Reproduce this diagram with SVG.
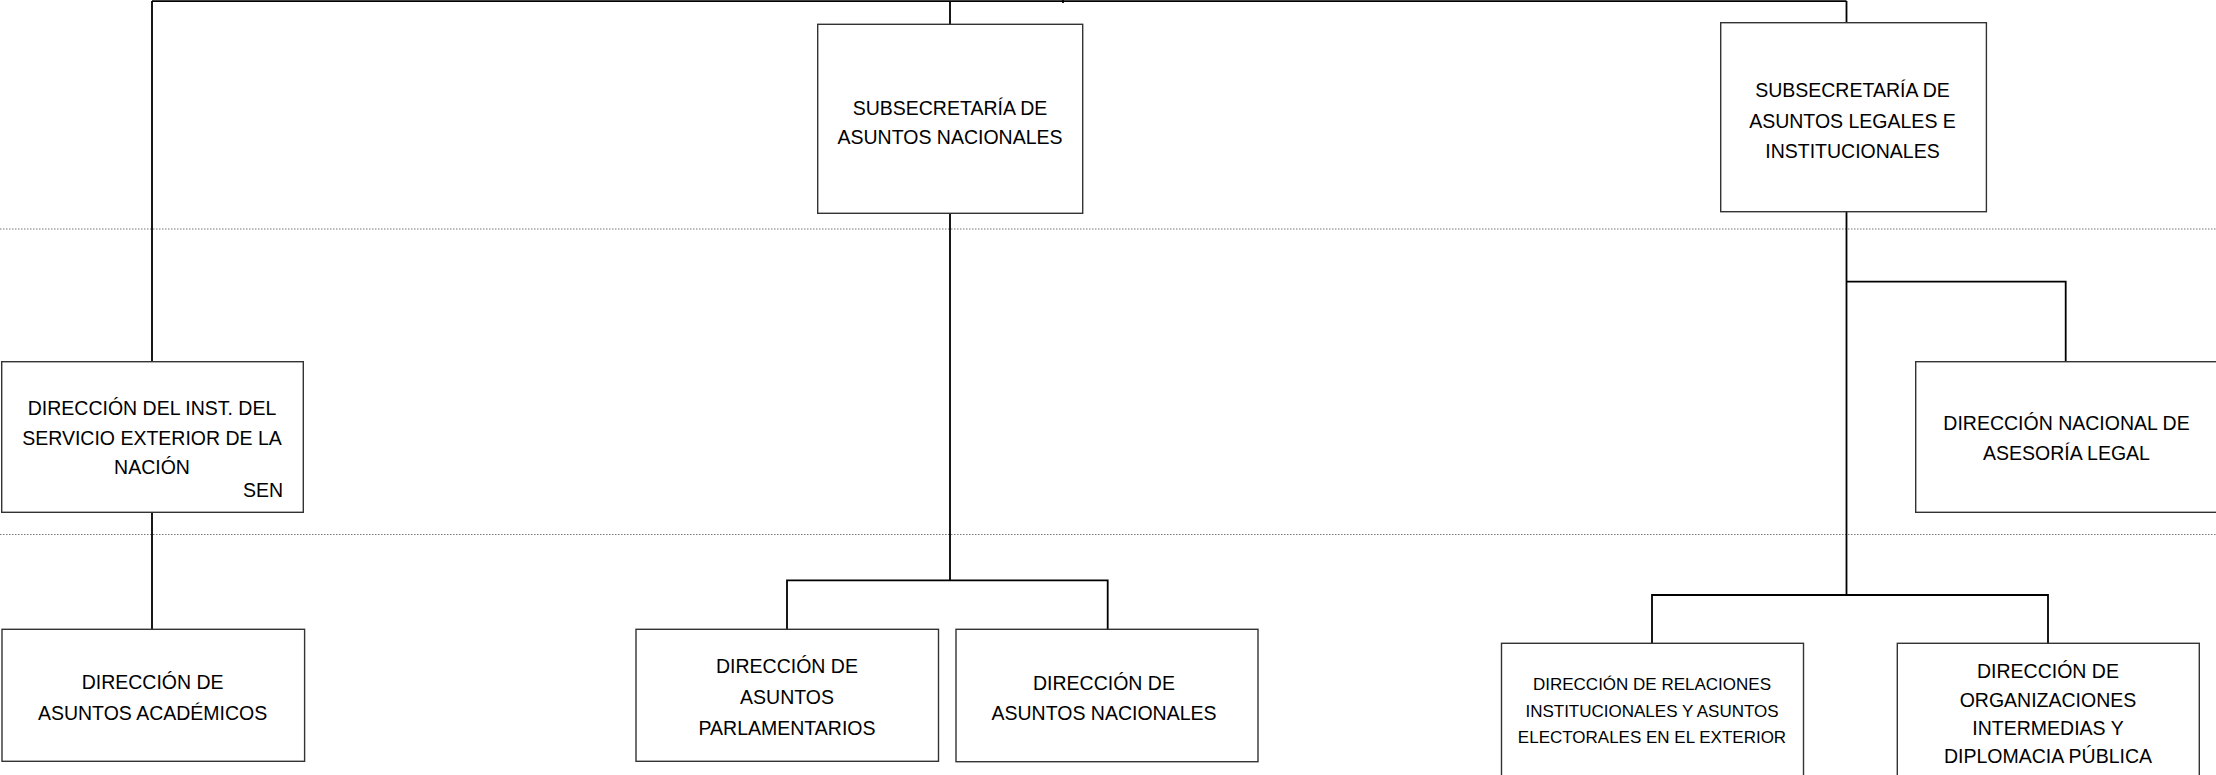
<svg xmlns="http://www.w3.org/2000/svg" width="2216" height="775" viewBox="0 0 2216 775">
<style>
.box{fill:#fff;stroke:#333;stroke-width:1.4}
.t{font-family:"Liberation Sans",Arial,sans-serif;font-size:19.5px;fill:#000;text-anchor:middle}
.s{font-size:17px}
.c{fill:none;stroke:#000;stroke-width:1.8}
.dot{stroke:#777;stroke-width:1.2;stroke-dasharray:1.5 1.5}
</style>
<rect width="2216" height="775" fill="#fff"/>
<g id="guides">
<line class="dot" x1="0" y1="229" x2="2216" y2="229"/>
<line class="dot" x1="0" y1="534.5" x2="2216" y2="534.5"/>
</g>
<g id="connectors">
<path class="c" stroke-width="2.2" d="M152,1.2 H1846.5"/>
<path class="c" d="M1063,0 V3"/>
<path class="c" d="M152,1 V361.7 M152,512.3 V629.3"/>
<path class="c" d="M950,1 V24.3 M950,213.3 V580.3 M787,629.3 V580.3 H1107.7 V629.3"/>
<path class="c" d="M1846.5,1 V22.7 M1846.5,211.7 V595 M1846.5,281.7 H2065.7 V361.7 M1652,643.3 V595 H2048 V643.3"/>
</g>
<g id="n-subsec-nacionales">
<rect class="box" x="817.7" y="24.3" width="265" height="189"/>
<text class="t" x="950" y="115">SUBSECRETARÍA DE</text>
<text class="t" x="950" y="144">ASUNTOS NACIONALES</text>
</g>
<g id="n-subsec-legales">
<rect class="box" x="1720.7" y="22.7" width="265.7" height="189"/>
<text class="t" x="1852.5" y="97">SUBSECRETARÍA DE</text>
<text class="t" x="1852.5" y="128">ASUNTOS LEGALES E</text>
<text class="t" x="1852.5" y="158">INSTITUCIONALES</text>
</g>
<g id="n-isen">
<rect class="box" x="1.7" y="361.7" width="301.6" height="150.6"/>
<text class="t" x="152" y="415">DIRECCIÓN DEL INST. DEL</text>
<text class="t" x="152" y="444.5">SERVICIO EXTERIOR DE LA</text>
<text class="t" x="152" y="473.5">NACIÓN</text>
<text class="t" x="283" y="496.5" style="text-anchor:end">SEN</text>
</g>
<g id="n-asesoria">
<rect class="box" x="1915.7" y="361.7" width="305" height="150.6"/>
<text class="t" x="2066.5" y="430">DIRECCIÓN NACIONAL DE</text>
<text class="t" x="2066.5" y="460">ASESORÍA LEGAL</text>
</g>
<g id="n-academicos">
<rect class="box" x="2" y="629.3" width="302.6" height="132"/>
<text class="t" x="152.6" y="689.3">DIRECCIÓN DE</text>
<text class="t" x="152.6" y="720">ASUNTOS ACADÉMICOS</text>
</g>
<g id="n-parlamentarios">
<rect class="box" x="636" y="629.3" width="302.5" height="132"/>
<text class="t" x="787" y="672.7">DIRECCIÓN DE</text>
<text class="t" x="787" y="704">ASUNTOS</text>
<text class="t" x="787" y="735">PARLAMENTARIOS</text>
</g>
<g id="n-asuntos-nacionales">
<rect class="box" x="956" y="629.3" width="302" height="132.4"/>
<text class="t" x="1104" y="690">DIRECCIÓN DE</text>
<text class="t" x="1104" y="720">ASUNTOS NACIONALES</text>
</g>
<g id="n-relaciones">
<rect class="box" x="1501.5" y="643.3" width="302" height="140"/>
<text class="t s" x="1652" y="690">DIRECCIÓN DE RELACIONES</text>
<text class="t s" x="1652" y="717.3">INSTITUCIONALES Y ASUNTOS</text>
<text class="t s" x="1652" y="743.3">ELECTORALES EN EL EXTERIOR</text>
</g>
<g id="n-organizaciones">
<rect class="box" x="1897.3" y="643.3" width="302" height="140"/>
<text class="t" x="2048" y="678.3">DIRECCIÓN DE</text>
<text class="t" x="2048" y="706.7">ORGANIZACIONES</text>
<text class="t" x="2048" y="735">INTERMEDIAS Y</text>
<text class="t" x="2048" y="763.3">DIPLOMACIA PÚBLICA</text>
</g>
</svg>
